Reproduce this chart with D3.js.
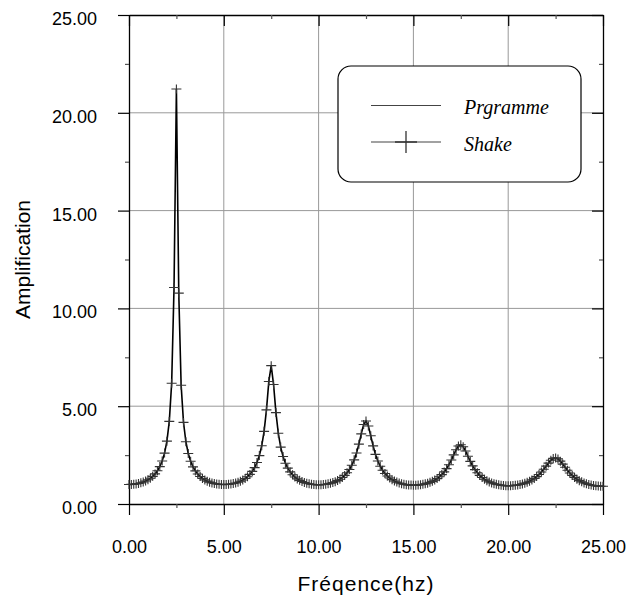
<!DOCTYPE html>
<html><head><meta charset="utf-8">
<script src="https://cdn.jsdelivr.net/npm/d3@7"></script>
<style>body{margin:0;background:#fff}</style></head>
<body><svg id="c" width="630" height="603"></svg>
<script>
// Frequency samples (Hz)
const freq = [
0,0.125,0.25,0.375,0.5,0.625,0.75,0.875,1,1.125,1.25,1.375,1.5,1.625,1.75,1.875,2,2.125,2.25,2.375,2.5,
2.625,2.75,2.875,3,3.125,3.25,3.375,3.5,3.625,3.75,3.875,4,4.125,4.25,4.375,4.5,4.625,4.75,4.875,5,
5.125,5.25,5.375,5.5,5.625,5.75,5.875,6,6.125,6.25,6.375,6.5,6.625,6.75,6.875,7,7.125,7.25,7.375,7.5,
7.625,7.75,7.875,8,8.125,8.25,8.375,8.5,8.625,8.75,8.875,9,9.125,9.25,9.375,9.5,9.625,9.75,9.875,10,
10.125,10.25,10.375,10.5,10.625,10.75,10.875,11,11.125,11.25,11.375,11.5,11.625,11.75,11.875,12,12.125,12.25,12.375,12.5,
12.625,12.75,12.875,13,13.125,13.25,13.375,13.5,13.625,13.75,13.875,14,14.125,14.25,14.375,14.5,14.625,14.75,14.875,15,
15.125,15.25,15.375,15.5,15.625,15.75,15.875,16,16.125,16.25,16.375,16.5,16.625,16.75,16.875,17,17.125,17.25,17.375,17.5,
17.625,17.75,17.875,18,18.125,18.25,18.375,18.5,18.625,18.75,18.875,19,19.125,19.25,19.375,19.5,19.625,19.75,19.875,20,
20.125,20.25,20.375,20.5,20.625,20.75,20.875,21,21.125,21.25,21.375,21.5,21.625,21.75,21.875,22,22.125,22.25,22.375,22.5,
22.625,22.75,22.875,23,23.125,23.25,23.375,23.5,23.625,23.75,23.875,24,24.125,24.25,24.375,24.5,24.625,24.75,24.875,25
];
// Amplification values – same samples for both series
const shake = [
1.000,1.003,1.013,1.028,1.051,1.082,1.122,1.173,1.236,1.315,1.413,1.539,1.699,1.911,2.197,2.602,3.212,4.222,6.170,11.07,21.22,
10.78,6.068,4.173,3.183,2.583,2.183,1.900,1.691,1.531,1.407,1.309,1.231,1.168,1.118,1.078,1.047,1.024,1.008,0.999,0.996,
0.998,1.007,1.023,1.045,1.075,1.114,1.163,1.224,1.300,1.395,1.514,1.666,1.862,2.121,2.475,2.976,3.713,4.814,6.265,7.074,
6.107,4.672,3.615,2.908,2.426,2.084,1.832,1.641,1.494,1.377,1.284,1.210,1.150,1.101,1.063,1.033,1.011,0.995,0.986,0.983,
0.985,0.994,1.008,1.029,1.058,1.094,1.140,1.197,1.268,1.355,1.462,1.596,1.765,1.980,2.256,2.611,3.061,3.585,4.063,4.244,
3.991,3.487,2.970,2.536,2.195,1.930,1.724,1.561,1.432,1.328,1.244,1.175,1.120,1.075,1.039,1.011,0.989,0.975,0.966,0.962,
0.964,0.972,0.986,1.005,1.031,1.065,1.107,1.158,1.221,1.298,1.391,1.504,1.641,1.808,2.010,2.246,2.510,2.771,2.969,3.032,
2.929,2.708,2.440,2.179,1.949,1.756,1.595,1.463,1.355,1.265,1.191,1.130,1.080,1.039,1.007,0.981,0.961,0.947,0.939,0.936,
0.938,0.944,0.957,0.974,0.998,1.028,1.065,1.110,1.165,1.231,1.308,1.401,1.509,1.635,1.778,1.934,2.092,2.234,2.331,2.358,
2.306,2.191,2.040,1.878,1.724,1.585,1.463,1.359,1.270,1.195,1.132,1.079,1.035,0.999,0.969,0.946,0.928,0.916,0.908,0.905
];
const programme = shake.slice();
const majorTicks = [0, 5, 10, 15, 20, 25];
const minorTicks = [2.5, 7.5, 12.5, 17.5, 22.5];
const gridTicks = [5, 10, 15, 20];
const seriesNames = ["Prgramme", "Shake"];
const xTitle = "Fréqence(hz)";
const yTitle = "Amplification";

const svg = d3.select("#c");
svg.append("rect").attr("width",630).attr("height",603).attr("fill","#fff");
const x = d3.scaleLinear().domain([0, 25]).range([129, 603]);
const y = d3.scaleLinear().domain([0, 25]).range([504, 15]);
const fmt = d3.format(".2f");
const sans = "'Liberation Sans', Arial, sans-serif";

// grid
const grid = svg.append("g").attr("stroke", "#999").attr("stroke-width", 1);
grid.selectAll(".gx").data(gridTicks).join("line")
  .attr("x1", d => x(d)).attr("x2", d => x(d)).attr("y1", y(0)).attr("y2", y(25));
grid.selectAll(".gy").data(gridTicks).join("line")
  .attr("y1", d => y(d)).attr("y2", d => y(d)).attr("x1", x(0)).attr("x2", x(25));

function addAxis(gen, tr, labels, minor) {
  const g = svg.append("g").attr("transform", tr).call(gen);
  g.attr("font-family", sans).attr("font-size", 18);
  g.selectAll(".tick line").attr("stroke", minor ? "#555" : "#000").attr("stroke-width", 1.2);
  g.select(".domain").attr("stroke", "#000").attr("stroke-width", 1.3);
  if (minor) g.select(".domain").remove();
  if (!labels) g.selectAll("text").remove();
  return g;
}
// left
const gl = addAxis(d3.axisLeft(y).tickValues(majorTicks).tickSizeInner(11).tickSizeOuter(0).tickPadding(21).tickFormat(fmt),
  `translate(${x(0)},0)`, true, false);
gl.selectAll("text").attr("dy", "0.53em").attr("fill", "#000");
addAxis(d3.axisLeft(y).tickValues(minorTicks).tickSizeInner(4).tickSizeOuter(0), `translate(${x(0)},0)`, false, true);
// bottom
const gb = addAxis(d3.axisBottom(x).tickValues(majorTicks).tickSizeInner(11).tickSizeOuter(0).tickPadding(25).tickFormat(fmt),
  `translate(0,${y(0)})`, true, false);
gb.selectAll("text").attr("fill", "#000");
addAxis(d3.axisBottom(x).tickValues(minorTicks).tickSizeInner(4).tickSizeOuter(0), `translate(0,${y(0)})`, false, true);
// top
addAxis(d3.axisTop(x).tickValues(majorTicks).tickSizeInner(-11).tickSizeOuter(0), `translate(0,${y(25)})`, false, false);
addAxis(d3.axisTop(x).tickValues(minorTicks).tickSizeInner(-4).tickSizeOuter(0), `translate(0,${y(25)})`, false, true);
// right
addAxis(d3.axisRight(y).tickValues(majorTicks).tickSizeInner(-11).tickSizeOuter(0), `translate(${x(25)},0)`, false, false);
addAxis(d3.axisRight(y).tickValues(minorTicks).tickSizeInner(-4).tickSizeOuter(0), `translate(${x(25)},0)`, false, true);

// Programme line
const line = d3.line().x((d, i) => x(freq[i])).y(d => y(d));
svg.append("path").datum(programme).attr("d", line)
  .attr("fill", "none").attr("stroke", "#000").attr("stroke-width", 1.6);

// Shake markers
const plus = (w, h) => `M${-w/2},0H${w/2}M0,${-h/2}V${h/2}`;
svg.append("g").selectAll("path").data(shake).join("path")
  .attr("transform", (d, i) => `translate(${x(freq[i])},${y(d)})`)
  .attr("d", plus(10, 9)).attr("fill", "none").attr("stroke", "#333").attr("stroke-width", 1.1);

// legend
const lg = svg.append("g");
lg.append("rect").attr("x", 338).attr("y", 66).attr("width", 243).attr("height", 116).attr("rx", 13)
  .attr("fill", "#fff").attr("stroke", "#000").attr("stroke-width", 1.2);
const rows = lg.selectAll(".row").data(seriesNames).join("g")
  .attr("transform", (d, i) => `translate(0,${i === 0 ? 105.5 : 142})`);
rows.append("line").attr("x1", 371).attr("x2", 441).attr("stroke", "#444").attr("stroke-width", 1.2);
rows.filter((d, i) => i === 1).append("path").attr("transform", "translate(406,0)")
  .attr("d", plus(22, 22)).attr("stroke", "#333").attr("stroke-width", 1.3).attr("fill", "none");
rows.append("text").attr("x", 464).attr("y", 8.5).text(d => d)
  .attr("font-family", "'Liberation Serif', 'Times New Roman', serif").attr("font-style", "italic")
  .attr("font-size", 20).attr("fill", "#000");

// titles
svg.append("text").attr("x", 366).attr("y", 591).attr("text-anchor", "middle")
  .attr("font-family", sans).attr("font-size", 21).attr("letter-spacing", 1).text(xTitle);
svg.append("text").attr("transform", "translate(30,259.5) rotate(-90)").attr("text-anchor", "middle")
  .attr("font-family", sans).attr("font-size", 21).text(yTitle);
</script></body></html>
